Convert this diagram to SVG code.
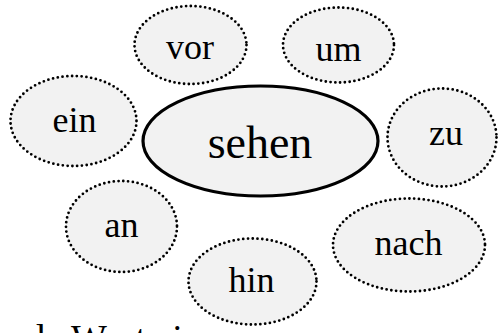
<svg xmlns="http://www.w3.org/2000/svg" width="498" height="333" viewBox="0 0 498 333">
<style>
.bg{fill:#ffffff}
.sat{fill:#f2f2f2;stroke:#000;stroke-width:2.8;stroke-dasharray:0 4.8;stroke-linecap:round}
.main{fill:#f2f2f2;stroke:#000;stroke-width:3.2}
text{font-family:"Liberation Serif","Times New Roman",serif;fill:#000;text-anchor:middle}
.lbl{font-size:36px}
.big{font-size:46px}
.foot{font-size:38px;text-anchor:start}
</style>
<rect class="bg" x="0" y="0" width="498" height="333"/>
<text class="foot" x="-227" y="351">Setze das passende Wort ein.</text>
<g id="connectors"></g>
<g id="node-sehen"><ellipse class="main" cx="260.5" cy="141" rx="117.5" ry="55"/><text class="big" x="260" y="158">sehen</text></g>
<g id="node-vor"><ellipse class="sat" cx="190.5" cy="45" rx="56" ry="39"/><text class="lbl" x="190" y="59">vor</text></g>
<g id="node-um"><ellipse class="sat" cx="338.5" cy="45" rx="55.5" ry="37.5"/><text class="lbl" x="338.5" y="61">um</text></g>
<g id="node-ein"><ellipse class="sat" cx="73.5" cy="121" rx="63" ry="45"/><text class="lbl" x="74.5" y="132">ein</text></g>
<g id="node-zu"><ellipse class="sat" cx="442" cy="137.5" rx="54.5" ry="49"/><text class="lbl" x="446" y="145">zu</text></g>
<g id="node-an"><ellipse class="sat" cx="121.5" cy="226.5" rx="55.5" ry="45.5"/><text class="lbl" x="121.5" y="237">an</text></g>
<g id="node-nach"><ellipse class="sat" cx="409" cy="245" rx="76" ry="46.5"/><text class="lbl" x="408.5" y="255">nach</text></g>
<g id="node-hin"><ellipse class="sat" cx="252.5" cy="281.5" rx="64" ry="43"/><text class="lbl" x="251.5" y="292">hin</text></g>
</svg>
